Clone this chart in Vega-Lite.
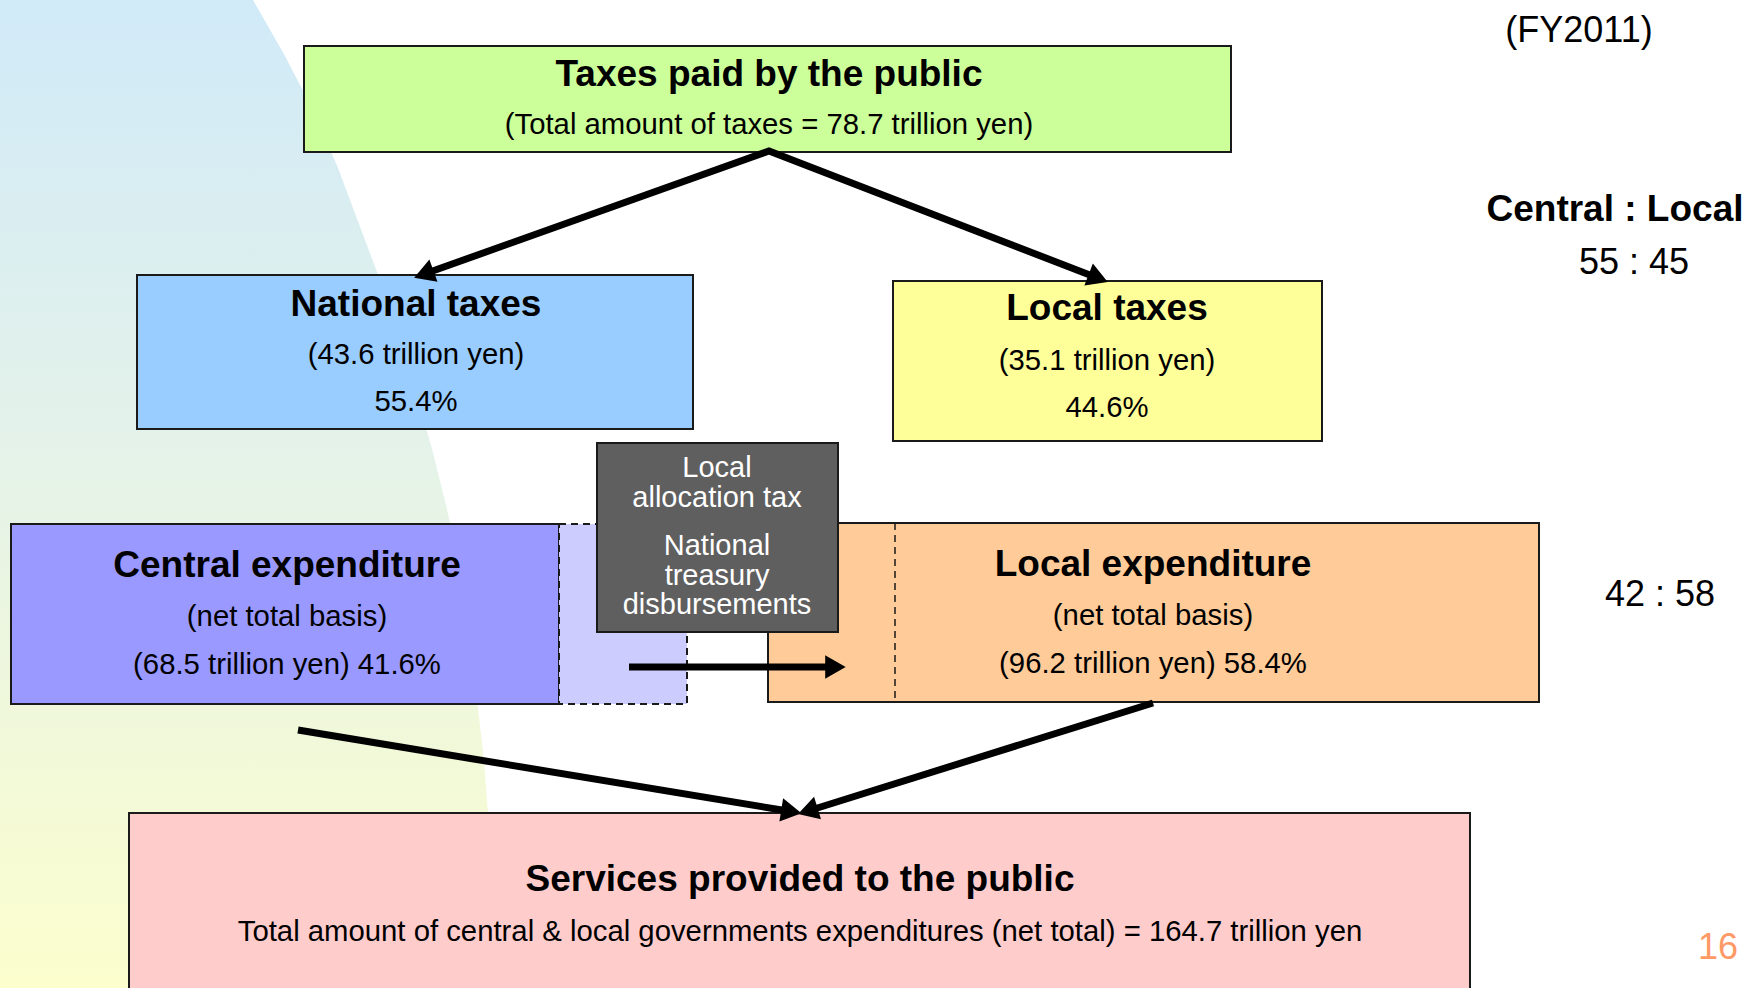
{
  "$schema": "https://vega.github.io/schema/vega-lite/v6.json",
  "width": 1760,
  "height": 988,
  "padding": 0,
  "autosize": "none",
  "background": "white",
  "config": {"view": {"stroke": null}, "font": "Liberation Sans"},
  "datasets": {
    "curve": [
      {"cy": 0, "cx": 253}, {"cy": 56, "cx": 285}, {"cy": 112, "cx": 314}, {"cy": 168, "cx": 338},
      {"cy": 224, "cx": 359}, {"cy": 280, "cx": 380}, {"cy": 337, "cx": 398}, {"cy": 393, "cx": 416},
      {"cy": 449, "cx": 432}, {"cy": 505, "cx": 446}, {"cy": 560, "cx": 458}, {"cy": 620, "cx": 468},
      {"cy": 700, "cx": 477}, {"cy": 760, "cx": 484}, {"cy": 813, "cx": 488}, {"cy": 900, "cx": 491},
      {"cy": 988, "cx": 492}
    ],
    "boxes": [
      {"box": "Taxes paid by the public", "x1": 304, "x2": 1231, "y1": 46, "y2": 152},
      {"box": "National taxes", "x1": 137, "x2": 693, "y1": 275, "y2": 429},
      {"box": "Local taxes", "x1": 893, "x2": 1322, "y1": 281, "y2": 441},
      {"box": "Central expenditure", "x1": 11, "x2": 559, "y1": 524, "y2": 704},
      {"box": "Local expenditure", "x1": 768, "x2": 1539, "y1": 523, "y2": 702},
      {"box": "Services provided to the public", "x1": 129, "x2": 1470, "y1": 813, "y2": 995}
    ],
    "transfer": [
      {"box": "Transfer share", "x1": 559, "x2": 687, "y1": 524, "y2": 704}
    ],
    "divider": [
      {"x": 895, "y1": 523, "y2": 702}
    ],
    "grants": [
      {"box": "Local allocation tax / National treasury disbursements", "x1": 597, "x2": 838, "y1": 443, "y2": 632}
    ],
    "shafts": [
      {"arrow": "split", "seq": 1, "px": 427, "py": 273},
      {"arrow": "split", "seq": 2, "px": 769, "py": 151},
      {"arrow": "split", "seq": 3, "px": 1095, "py": 277},
      {"arrow": "central", "seq": 1, "px": 298, "py": 730},
      {"arrow": "central", "seq": 2, "px": 788, "py": 811},
      {"arrow": "local", "seq": 1, "px": 1153, "py": 703},
      {"arrow": "local", "seq": 2, "px": 811, "py": 810},
      {"arrow": "transfer", "seq": 1, "px": 629, "py": 667},
      {"arrow": "transfer", "seq": 2, "px": 832, "py": 667}
    ],
    "heads": [
      {"arrow": "national", "px": 427, "py": 273, "angle": 250},
      {"arrow": "localtax", "px": 1095, "py": 277, "angle": 111},
      {"arrow": "central", "px": 788, "py": 811, "angle": 99},
      {"arrow": "local", "px": 811, "py": 810, "angle": 253},
      {"arrow": "transfer", "px": 832, "py": 667, "angle": 90}
    ],
    "texts": [
      {"text": "Taxes paid by the public", "tx": 769, "ty": 74.5, "role": "heading"},
      {"text": "National taxes", "tx": 416, "ty": 304.5, "role": "heading"},
      {"text": "Local taxes", "tx": 1107, "ty": 309, "role": "heading"},
      {"text": "Central expenditure", "tx": 287, "ty": 565.5, "role": "heading"},
      {"text": "Local expenditure", "tx": 1153, "ty": 565, "role": "heading"},
      {"text": "Services provided to the public", "tx": 800, "ty": 879.5, "role": "heading"},
      {"text": "Central : Local", "tx": 1615, "ty": 209.5, "role": "heading"},
      {"text": "(Total amount of taxes = 78.7 trillion yen)", "tx": 769, "ty": 125, "role": "body"},
      {"text": "(43.6 trillion yen)", "tx": 416, "ty": 355, "role": "body"},
      {"text": "55.4%", "tx": 416, "ty": 402, "role": "body"},
      {"text": "(35.1 trillion yen)", "tx": 1107, "ty": 361, "role": "body"},
      {"text": "44.6%", "tx": 1107, "ty": 408, "role": "body"},
      {"text": "(net total basis)", "tx": 287, "ty": 617, "role": "body"},
      {"text": "(68.5 trillion yen) 41.6%", "tx": 287, "ty": 665, "role": "body"},
      {"text": "(net total basis)", "tx": 1153, "ty": 616, "role": "body"},
      {"text": "(96.2 trillion yen) 58.4%", "tx": 1153, "ty": 663.5, "role": "body"},
      {"text": "Total amount of central & local governments expenditures (net total) = 164.7 trillion yen", "tx": 800, "ty": 931.5, "role": "body"},
      {"text": "(FY2011)", "tx": 1579, "ty": 31, "role": "ratio"},
      {"text": "55 : 45", "tx": 1634, "ty": 263, "role": "ratio"},
      {"text": "42 : 58", "tx": 1660, "ty": 595, "role": "ratio"},
      {"text": "Local", "tx": 717, "ty": 467.5, "role": "inverse"},
      {"text": "allocation tax", "tx": 717, "ty": 497.5, "role": "inverse"},
      {"text": "National", "tx": 717, "ty": 545.5, "role": "inverse"},
      {"text": "treasury", "tx": 717, "ty": 575.5, "role": "inverse"},
      {"text": "disbursements", "tx": 717, "ty": 605, "role": "inverse"},
      {"text": "16", "tx": 1718, "ty": 948, "role": "page"}
    ]
  },
  "layer": [
    {
      "data": {"name": "curve"},
      "mark": {
        "type": "area", "orient": "horizontal",
        "color": {"gradient": "linear", "x1": 0, "y1": 0, "x2": 0, "y2": 1,
          "stops": [{"offset": 0, "color": "#D0EAF8"}, {"offset": 0.45, "color": "#E4F2E9"}, {"offset": 1, "color": "#FCFECD"}]}
      },
      "encoding": {
        "y": {"field": "cy", "type": "quantitative", "scale": {"domain": [0, 988], "reverse": true, "nice": false, "zero": false}, "axis": null},
        "x": {"field": "cx", "type": "quantitative", "stack": null, "scale": {"domain": [0, 1760], "nice": false, "zero": false}, "axis": null},
        "x2": {"datum": 0}
      }
    },
    {
      "data": {"name": "boxes"},
      "mark": {"type": "rect", "stroke": "#1a1a1a", "strokeWidth": 2},
      "encoding": {
        "x": {"field": "x1", "type": "quantitative", "axis": null},
        "x2": {"field": "x2"},
        "y": {"field": "y1", "type": "quantitative", "axis": null},
        "y2": {"field": "y2"},
        "fill": {"field": "box", "type": "nominal", "legend": null,
          "scale": {"domain": ["Taxes paid by the public", "National taxes", "Local taxes", "Central expenditure", "Local expenditure", "Services provided to the public"],
                    "range": ["#CCFF99", "#99CCFF", "#FFFF99", "#9999FF", "#FFCC99", "#FFCCCC"]}}
      }
    },
    {
      "data": {"name": "transfer"},
      "mark": {"type": "rect", "fill": "#CCCCFF", "stroke": "#1a1a1a", "strokeWidth": 2, "strokeDash": [7, 5]},
      "encoding": {
        "x": {"field": "x1", "type": "quantitative", "axis": null},
        "x2": {"field": "x2"},
        "y": {"field": "y1", "type": "quantitative", "axis": null},
        "y2": {"field": "y2"}
      }
    },
    {
      "data": {"name": "divider"},
      "mark": {"type": "rule", "stroke": "#1a1a1a", "strokeWidth": 1.5, "strokeDash": [7, 5]},
      "encoding": {
        "x": {"field": "x", "type": "quantitative", "axis": null},
        "y": {"field": "y1", "type": "quantitative", "axis": null},
        "y2": {"field": "y2"}
      }
    },
    {
      "data": {"name": "grants"},
      "mark": {"type": "rect", "fill": "#5F5F5F", "stroke": "#1a1a1a", "strokeWidth": 2},
      "encoding": {
        "x": {"field": "x1", "type": "quantitative", "axis": null},
        "x2": {"field": "x2"},
        "y": {"field": "y1", "type": "quantitative", "axis": null},
        "y2": {"field": "y2"}
      }
    },
    {
      "data": {"name": "shafts"},
      "mark": {"type": "line", "color": "black", "strokeWidth": 7, "strokeCap": "butt", "strokeJoin": "miter"},
      "encoding": {
        "x": {"field": "px", "type": "quantitative", "axis": null},
        "y": {"field": "py", "type": "quantitative", "axis": null},
        "detail": {"field": "arrow", "type": "nominal"},
        "order": {"field": "seq", "type": "quantitative"}
      }
    },
    {
      "data": {"name": "heads"},
      "mark": {"type": "point", "shape": "triangle", "filled": true, "color": "black", "opacity": 1, "size": 560, "strokeWidth": 0},
      "encoding": {
        "x": {"field": "px", "type": "quantitative", "axis": null},
        "y": {"field": "py", "type": "quantitative", "axis": null},
        "angle": {"field": "angle", "type": "quantitative", "scale": null}
      }
    },
    {
      "data": {"name": "texts"},
      "transform": [{"filter": "datum.role === 'heading'"}],
      "mark": {"type": "text", "font": "Liberation Sans", "fontWeight": "bold", "fontSize": 37, "color": "black", "align": "center", "baseline": "middle"},
      "encoding": {
        "x": {"field": "tx", "type": "quantitative", "axis": null},
        "y": {"field": "ty", "type": "quantitative", "axis": null},
        "text": {"field": "text"}
      }
    },
    {
      "data": {"name": "texts"},
      "transform": [{"filter": "datum.role === 'body'"}],
      "mark": {"type": "text", "font": "Liberation Sans", "fontSize": 29.3, "color": "black", "align": "center", "baseline": "middle"},
      "encoding": {
        "x": {"field": "tx", "type": "quantitative", "axis": null},
        "y": {"field": "ty", "type": "quantitative", "axis": null},
        "text": {"field": "text"}
      }
    },
    {
      "data": {"name": "texts"},
      "transform": [{"filter": "datum.role === 'ratio'"}],
      "mark": {"type": "text", "font": "Liberation Sans", "fontSize": 36, "color": "black", "align": "center", "baseline": "middle"},
      "encoding": {
        "x": {"field": "tx", "type": "quantitative", "axis": null},
        "y": {"field": "ty", "type": "quantitative", "axis": null},
        "text": {"field": "text"}
      }
    },
    {
      "data": {"name": "texts"},
      "transform": [{"filter": "datum.role === 'inverse'"}],
      "mark": {"type": "text", "font": "Liberation Sans", "fontSize": 29, "color": "white", "align": "center", "baseline": "middle"},
      "encoding": {
        "x": {"field": "tx", "type": "quantitative", "axis": null},
        "y": {"field": "ty", "type": "quantitative", "axis": null},
        "text": {"field": "text"}
      }
    },
    {
      "data": {"name": "texts"},
      "transform": [{"filter": "datum.role === 'page'"}],
      "mark": {"type": "text", "font": "Liberation Sans", "fontSize": 36, "color": "#FF9966", "align": "center", "baseline": "middle"},
      "encoding": {
        "x": {"field": "tx", "type": "quantitative", "axis": null},
        "y": {"field": "ty", "type": "quantitative", "axis": null},
        "text": {"field": "text"}
      }
    }
  ]
}
